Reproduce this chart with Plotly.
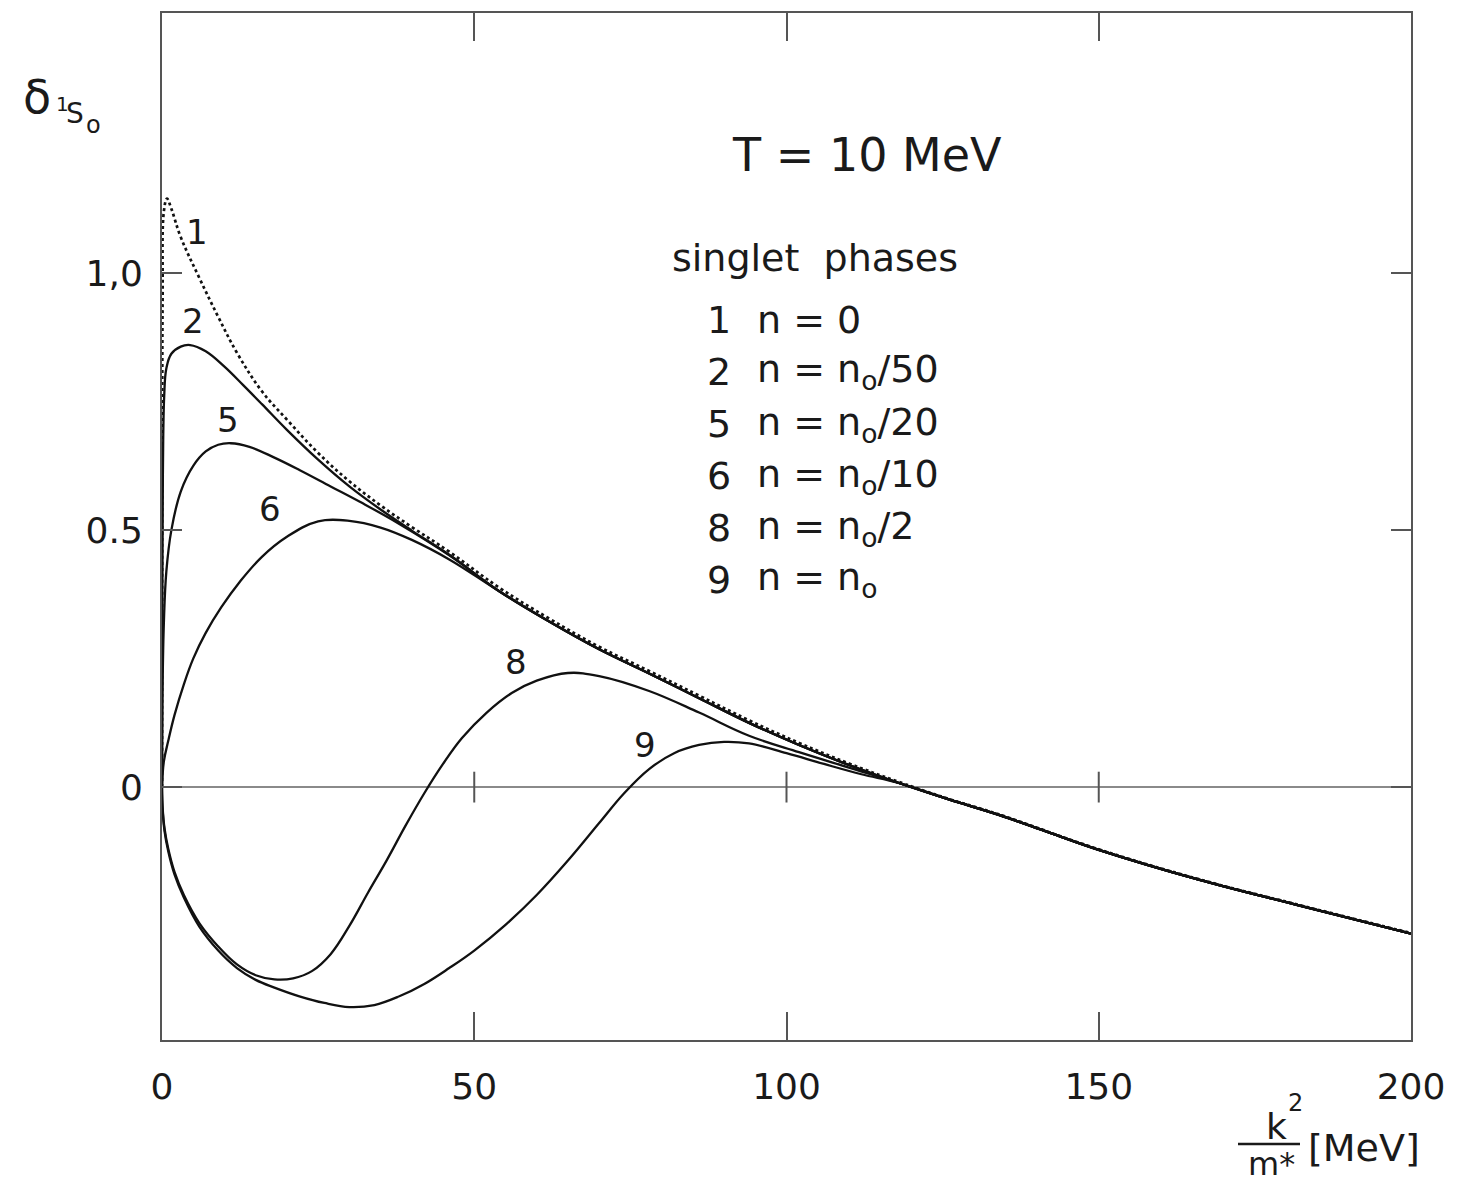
import plotly.graph_objects as go

# ---- phase-shift curves delta_1S0 vs k^2/m* [MeV] at T = 10 MeV ----
# curve 1: n = 0 (free scattering)
c1_x = [0, 0.03, 0.1, 0.3, 0.8, 1.5, 3, 6, 9, 12, 16, 20, 25, 30, 35, 40, 46,
        54, 62, 70, 78, 86, 94, 102, 110, 118, 126, 134, 150, 166, 182, 200]
c1_y = [0, 0.6, 0.95, 1.12, 1.145, 1.125, 1.07, 0.99, 0.915, 0.845, 0.77, 0.715,
        0.65, 0.595, 0.548, 0.506, 0.458, 0.388, 0.328, 0.273, 0.226, 0.178,
        0.13, 0.086, 0.046, 0.01, -0.023, -0.053, -0.121, -0.179, -0.229, -0.284]

# common branch shared by the solid curves at larger momenta
mid_x = [54, 62, 70, 78, 86, 94, 102, 110]
mid_y = [0.381, 0.322, 0.268, 0.221, 0.173, 0.125, 0.082, 0.043]
tail_x = [118, 126, 134, 142, 150, 166, 182, 200]
tail_y = [0.008, -0.024, -0.054, -0.088, -0.122, -0.18, -0.23, -0.285]

# curve 2: n = n0/50
c2_x = [0, 0.05, 0.15, 0.35, 0.7, 1.5, 3, 4.5, 7, 10, 13, 16, 20, 25, 30, 35, 40, 46]
c2_y = [0, 0.35, 0.62, 0.76, 0.815, 0.843, 0.857, 0.86, 0.848, 0.818, 0.782,
        0.745, 0.695, 0.637, 0.585, 0.54, 0.499, 0.452]

# curve 5: n = n0/20
c5_x = [0, 0.1, 0.3, 0.7, 1.5, 3, 5, 7, 9, 11, 14, 18, 22, 27, 32, 38, 46]
c5_y = [0, 0.2, 0.32, 0.42, 0.5, 0.575, 0.625, 0.653, 0.666, 0.669, 0.662,
        0.641, 0.617, 0.585, 0.553, 0.512, 0.451]

# curve 6: n = n0/10
c6_x = [0, 0.3, 1, 2, 3.5, 5, 7, 9.5, 12.5, 16, 20, 25, 30, 35, 40, 46]
c6_y = [0, 0.05, 0.09, 0.14, 0.2, 0.25, 0.3, 0.35, 0.4, 0.448, 0.487, 0.517,
        0.518, 0.505, 0.481, 0.443]

# curve 8: n = n0/2
c8_x = [0, 0.1, 0.4, 1, 2, 3.5, 6, 9, 12, 15, 18, 21, 24, 27, 30, 33, 36, 39,
        42, 45, 48, 52, 56, 60, 65, 70, 78, 86, 94, 102, 110]
c8_y = [0, -0.04, -0.08, -0.12, -0.165, -0.21, -0.265, -0.31, -0.345, -0.366,
        -0.374, -0.372, -0.358, -0.325, -0.27, -0.205, -0.142, -0.075, -0.012,
        0.045, 0.095, 0.145, 0.183, 0.207, 0.222, 0.216, 0.187, 0.145, 0.1,
        0.068, 0.038]

# curve 9: n = n0
c9_x = [0, 0.1, 0.4, 1, 2, 3.5, 6, 9, 12, 15, 18, 22, 26, 30, 34, 38, 42, 46,
        50, 55, 60, 65, 70, 74, 78, 82, 86, 90, 94, 100, 106, 112]
c9_y = [0, -0.045, -0.085, -0.125, -0.17, -0.215, -0.272, -0.318, -0.352,
        -0.375, -0.39, -0.407, -0.42, -0.428, -0.424, -0.407, -0.383, -0.352,
        -0.318, -0.268, -0.21, -0.143, -0.07, -0.012, 0.035, 0.066, 0.082,
        0.088, 0.085, 0.066, 0.045, 0.025]

# curve number labels placed next to each curve (data coordinates)
label_text = ["1", "2", "5", "6", "8", "9"]
label_x = [5.6, 5.0, 10.6, 17.3, 56.7, 77.3]
label_y = [1.08, 0.907, 0.714, 0.541, 0.243, 0.082]

# legend block entries
legend_num = ["1", "2", "5", "6", "8", "9"]
legend_txt = ["n = 0", "n = n<sub>o</sub>/50", "n = n<sub>o</sub>/20",
              "n = n<sub>o</sub>/10", "n = n<sub>o</sub>/2", "n = n<sub>o</sub>"]

x_ticks = [0, 50, 100, 150, 200]
y_ticks = [0, 0.5, 1.0]
y_ticktext = ["0", "0.5", "1,0"]

W, H = 1471, 1186
ML, MR, MT, MB = 162, 60, 13, 146
PW, PH = W - ML - MR, H - MT - MB


def px(x, y):
    """pixel position on the page -> paper coordinates"""
    return (x - ML) / PW, (H - MB - y) / PH


FONT = "DejaVu Sans"
INK = "#1a1a1a"
SMOOTH = 1.1
LINE = dict(color="#111111", width=2.3, shape="spline", smoothing=SMOOTH)

fig = go.Figure()

fig.add_trace(go.Scatter(x=c1_x, y=c1_y, mode="lines",
                         line=dict(color="#111111", width=2.7, dash="dot",
                                   shape="spline", smoothing=SMOOTH)))
for hx, hy in [(c2_x, c2_y), (c5_x, c5_y), (c6_x, c6_y)]:
    fig.add_trace(go.Scatter(x=hx + mid_x + tail_x, y=hy + mid_y + tail_y,
                             mode="lines", line=LINE))
for hx, hy in [(c8_x, c8_y), (c9_x, c9_y)]:
    fig.add_trace(go.Scatter(x=hx + tail_x, y=hy + tail_y, mode="lines",
                             line=LINE))

# small tick marks sitting on the zero line
fig.add_trace(go.Scatter(x=x_ticks[1:-1], y=[0] * 3, mode="markers",
                         marker=dict(symbol="line-ns", size=22,
                                     line=dict(color="#555555", width=2))))

for t, x, y in zip(label_text, label_x, label_y):
    fig.add_annotation(x=x, y=y, text=t, showarrow=False,
                       font=dict(family=FONT, size=34, color=INK))

ann = []
# panel heading
ax_, ay_ = px(867, 155)
ann.append(dict(x=ax_, y=ay_, text="T = 10 MeV", font_size=46))
ax_, ay_ = px(670, 258)
ann.append(dict(x=ax_, y=ay_, text="singlet  phases", font_size=38, xanchor="left"))
for i, (num, txt) in enumerate(zip(legend_num, legend_txt)):
    yy = 320 + i * 52
    ax_, ay_ = px(719, yy)
    ann.append(dict(x=ax_, y=ay_, text=num, font_size=38))
    ax_, ay_ = px(755, yy)
    ann.append(dict(x=ax_, y=ay_, text=txt, font_size=38, xanchor="left"))

# y-axis title: delta with 1S0 subscript
ax_, ay_ = px(37, 97)
ann.append(dict(x=ax_, y=ay_, text="δ", font_size=46))
ax_, ay_ = px(62, 104)
ann.append(dict(x=ax_, y=ay_, text="1", font_size=20))
ax_, ay_ = px(75, 113)
ann.append(dict(x=ax_, y=ay_, text="S", font_size=28))
ax_, ay_ = px(93, 125)
ann.append(dict(x=ax_, y=ay_, text="o", font_size=24))

# x-axis title: k^2/m* [MeV]
ax_, ay_ = px(1276, 1126)
ann.append(dict(x=ax_, y=ay_, text="k", font_size=36))
ax_, ay_ = px(1295, 1103)
ann.append(dict(x=ax_, y=ay_, text="2", font_size=24))
ax_, ay_ = px(1271, 1164)
ann.append(dict(x=ax_, y=ay_, text="m*", font_size=32))
ax_, ay_ = px(1364, 1148)
ann.append(dict(x=ax_, y=ay_, text="[MeV]", font_size=38))

for a in ann:
    fs = a.pop("font_size")
    fig.add_annotation(xref="paper", yref="paper", showarrow=False,
                       font=dict(family=FONT, size=fs, color=INK),
                       xanchor=a.pop("xanchor", "center"), yanchor="middle", **a)

x0, yl = px(1238, 1144)
x1, _ = px(1300, 1144)
fig.add_shape(type="line", xref="paper", yref="paper", x0=x0, x1=x1, y0=yl, y1=yl,
              line=dict(color=INK, width=2.5))

axis_common = dict(showgrid=False, showline=True, linecolor="#555555", linewidth=2,
                   mirror="allticks", ticks="inside", tickcolor="#555555",
                   tickwidth=2, tickfont=dict(family=FONT, size=36, color=INK))

fig.update_xaxes(range=[0, 200], tickvals=x_ticks, ticklen=28,
                 ticklabelstandoff=14, zeroline=False, **axis_common)
fig.update_yaxes(range=[-0.492, 1.506], tickvals=y_ticks, ticktext=y_ticktext,
                 ticklen=20, ticklabelstandoff=10, zeroline=True,
                 zerolinecolor="#8a8a8a", zerolinewidth=2, **axis_common)

fig.update_layout(width=W, height=H, margin=dict(l=ML, r=MR, t=MT, b=MB),
                  paper_bgcolor="white", plot_bgcolor="white", showlegend=False)

fig.write_html("out.html")
